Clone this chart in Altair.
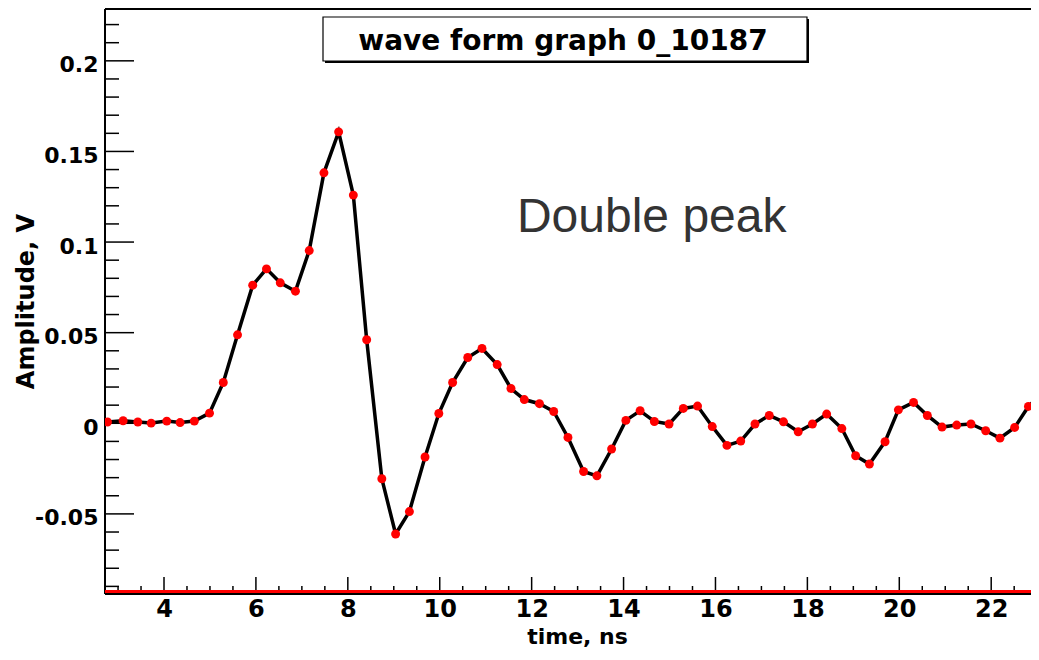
import altair as alt
import pandas as pd

# samples
TIME_NS = [2.77, 3.11, 3.43, 3.72, 4.06, 4.35, 4.66, 4.99, 5.29, 5.60, 5.93,
           6.23, 6.53, 6.86, 7.16, 7.48, 7.80, 8.12, 8.41, 8.74, 9.04, 9.34,
           9.68, 9.98, 10.28, 10.61, 10.92, 11.25, 11.55, 11.84, 12.17, 12.48,
           12.79, 13.13, 13.42, 13.74, 14.05, 14.36, 14.67, 14.99, 15.30, 15.61,
           15.93, 16.25, 16.55, 16.86, 17.17, 17.48, 17.80, 18.11, 18.42, 18.75,
           19.05, 19.35, 19.69, 19.98, 20.31, 20.61, 20.93, 21.25, 21.56, 21.88,
           22.19, 22.51, 22.81, 23.12]
AMPLITUDE_V = [0.0007, 0.0014, 0.0007, 0.0001, 0.0012, 0.0004, 0.0012, 0.0056,
               0.0225, 0.0488, 0.0762, 0.0852, 0.0775, 0.0729, 0.0953, 0.1382,
               0.1608, 0.1259, 0.0461, -0.0306, -0.0611, -0.0487, -0.0186,
               0.0054, 0.0225, 0.0363, 0.0413, 0.0324, 0.0192, 0.0131, 0.0108,
               0.0065, -0.0078, -0.0266, -0.0290, -0.0142, 0.0016, 0.0069,
               0.0010, -0.0004, 0.0082, 0.0095, -0.0018, -0.0122, -0.0098,
               -0.0004, 0.0043, 0.0008, -0.0047, -0.0004, 0.0051, -0.0029,
               -0.0179, -0.0225, -0.0102, 0.0074, 0.0115, 0.0043, -0.0021,
               -0.0010, -0.0004, -0.0041, -0.0082, -0.0023, 0.0093, 0.0167]

X_MAJOR = [4, 6, 8, 10, 12, 14, 16, 18, 20, 22]
Y_MAJOR = [-0.05, 0, 0.05, 0.1, 0.15, 0.2]
X_MINOR = [k / 2 for k in range(6, 46) if k % 4 != 0]
Y_MINOR = [k / 100 for k in range(-9, 23) if k % 5 != 0]

TITLE = "wave form graph 0_10187"
X_TITLE = "time, ns"
Y_TITLE = "Amplitude, V"
NOTE = "Double peak"
NOTE_T, NOTE_V = 11.68, 0.1058

X_DOMAIN = [2.716, 22.866]
Y_DOMAIN = [-0.0942, 0.2286]

W, H = 926, 585
FONT = "DejaVu Sans"

xs = alt.Scale(domain=X_DOMAIN, nice=False, zero=False)
ys = alt.Scale(domain=Y_DOMAIN, nice=False, zero=False)

wave = pd.DataFrame({"t": TIME_NS, "v": AMPLITUDE_V})
one = pd.DataFrame({"label": [TITLE]})

x_axis = alt.Axis(values=X_MAJOR, format="d", ticks=False, domain=False,
                  grid=False, labelFont=FONT, labelFontSize=24,
                  labelFontWeight="bold", labelColor="black", labelPadding=3,
                  labelOverlap=False, labelFlush=False,
                  title=X_TITLE, titleFont=FONT, titleFontSize=22,
                  titleFontWeight="bold", titleColor="black", titleX=472,
                  titleY=49, titleAlign="center", titleBaseline="alphabetic")
y_axis = alt.Axis(values=Y_MAJOR, ticks=False, domain=False, grid=False,
                  labelExpr="datum.value < 0 ? '-' + format(-datum.value, '~g') : format(datum.value, '~g')",
                  labelFont=FONT, labelFontSize=22, labelFontWeight="bold",
                  labelColor="black", labelPadding=7, labelOffset=4,
                  labelOverlap=False, labelFlush=False,
                  title=Y_TITLE, titleFont=FONT, titleFontSize=24,
                  titleFontWeight="bold", titleColor="black", titleAngle=270,
                  titleX=-72, titleY=292, titleAlign="center",
                  titleBaseline="alphabetic")

X = alt.X("t:Q", scale=xs, axis=x_axis)
Y = alt.Y("v:Q", scale=ys, axis=y_axis)

line = alt.Chart(wave).mark_line(color="black", strokeWidth=3.5, clip=True).encode(x=X, y=Y)
dots = alt.Chart(wave).mark_circle(color="red", size=80, opacity=1, clip=True).encode(x=X, y=Y)


def x_ticks(vals, length):
    return alt.Chart(pd.DataFrame({"t": vals})).mark_rule(
        color="black", strokeWidth=1.5).encode(
            x=X, y=alt.value(H), y2=alt.value(H - length))


def y_ticks(vals, length):
    return alt.Chart(pd.DataFrame({"v": vals})).mark_rule(
        color="black", strokeWidth=1.5).encode(
            y=Y, x=alt.value(0), x2=alt.value(length))


# frame: top, left, bottom (right edge runs off the picture)
frame_top = alt.Chart(one).mark_rule(color="black", strokeWidth=2).encode(
    x=alt.value(0), x2=alt.value(W), y=alt.value(0))
frame_left = alt.Chart(one).mark_rule(color="black", strokeWidth=2).encode(
    x=alt.value(0), y=alt.value(0), y2=alt.value(H))
frame_bottom = alt.Chart(one).mark_rule(color="black", strokeWidth=2).encode(
    x=alt.value(0), x2=alt.value(W), y=alt.value(H))
red_base = alt.Chart(one).mark_rule(color="red", strokeWidth=3).encode(
    x=alt.value(0), x2=alt.value(W), y=alt.value(H - 2.5))

shadow = alt.Chart(one).mark_rect(color="black").encode(
    x=alt.value(220), x2=alt.value(704), y=alt.value(10), y2=alt.value(54))
box = alt.Chart(one).mark_rect(fill="white", stroke="black", strokeWidth=1.2).encode(
    x=alt.value(218), x2=alt.value(702), y=alt.value(8), y2=alt.value(52))
title = alt.Chart(one).mark_text(font=FONT, fontSize=28, fontWeight="bold",
                                 color="black", align="center",
                                 baseline="alphabetic").encode(
    x=alt.value(458), y=alt.value(41), text="label:N")

note = alt.Chart(pd.DataFrame({"t": [NOTE_T], "v": [NOTE_V], "label": [NOTE]})).mark_text(
    font="Liberation Sans", fontSize=48, color="#333333", align="left",
    baseline="alphabetic").encode(x=X, y=Y, text="label:N")

chart = alt.layer(
    line, x_ticks(X_MAJOR, 17), x_ticks(X_MINOR, 8), y_ticks(Y_MAJOR, 29),
    y_ticks(Y_MINOR, 14), frame_top, frame_left, frame_bottom, red_base,
    dots, shadow, box, title, note
).properties(
    width=W, height=H,
    padding={"left": 97, "top": 1, "right": 0, "bottom": 54},
    autosize=alt.AutoSizeParams(type="none"),
    background="white",
).configure_view(strokeWidth=0)

chart.save("out.html", embed_options={"renderer": "svg", "actions": False})
